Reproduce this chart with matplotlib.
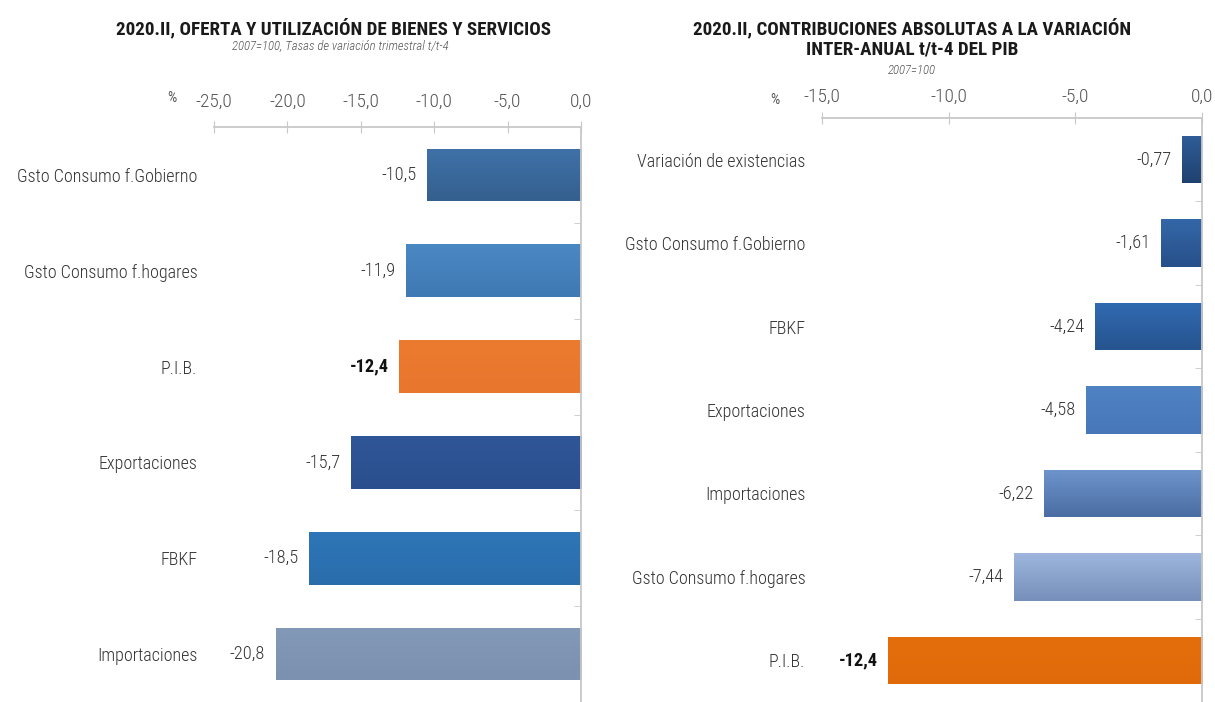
import matplotlib
matplotlib.use("Agg")
import matplotlib.pyplot as plt
import numpy as np
from matplotlib import font_manager
from matplotlib.colors import to_rgb

# ---------------- data ----------------
left_categories = ["Gsto Consumo f.Gobierno", "Gsto Consumo f.hogares", "P.I.B.",
                   "Exportaciones", "FBKF", "Importaciones"]
left_values = [-10.5, -11.9, -12.4, -15.7, -18.5, -20.8]
left_labels = ["-10,5", "-11,9", "-12,4", "-15,7", "-18,5", "-20,8"]
left_colors_top = ["#3f71a8", "#4a88c4", "#ec7b30", "#2f5698", "#2e76b8", "#8399b8"]
left_colors_bot = ["#34608f", "#4079b4", "#e8762c", "#2b4f8e", "#2a6dab", "#7c91af"]
left_ticks = [-25, -20, -15, -10, -5, 0]
left_ticklabels = ["-25,0", "-20,0", "-15,0", "-10,0", "-5,0", "0,0"]

right_categories = ["Variación de existencias", "Gsto Consumo f.Gobierno", "FBKF",
                    "Exportaciones", "Importaciones", "Gsto Consumo f.hogares", "P.I.B."]
right_values = [-0.77, -1.61, -4.24, -4.58, -6.22, -7.44, -12.4]
right_labels = ["-0,77", "-1,61", "-4,24", "-4,58", "-6,22", "-7,44", "-12,4"]
right_colors_top = ["#2f5d98", "#3467a8", "#316ab2", "#5083c4", "#6e94cc", "#9eb6dd", "#e56e0c"]
right_colors_bot = ["#1f416f", "#27508a", "#26548f", "#4777b8", "#4a6ea3", "#7690bb", "#e06a0a"]
right_ticks = [-15, -10, -5, 0]
right_ticklabels = ["-15,0", "-10,0", "-5,0", "0,0"]

# ---------------- fonts ----------------
names = {f.name for f in font_manager.fontManager.ttflist}
narrow = None
for cand in ["Liberation Sans Narrow", "Arial Narrow", "Roboto Condensed", "Open Sans Condensed"]:
    if cand in names:
        narrow = cand
        break
FAM = [narrow, "Liberation Sans", "DejaVu Sans"] if narrow else ["Liberation Sans", "DejaVu Sans"]
plt.rcParams["font.family"] = FAM

W, H = 1215, 702
fig = plt.figure(figsize=(W / 100, H / 100), dpi=100)
fig.patch.set_facecolor("white")
renderer = fig.canvas.get_renderer()

LW = "light"


def fit_size(text, target_px, weight="normal", style="normal", base=12.0):
    t = fig.text(0, 0, text, fontsize=base, fontweight=weight, style=style)
    w = t.get_window_extent(renderer=renderer).width
    t.remove()
    return base * target_px / w


CAT_FS = fit_size("Gsto Consumo f.Gobierno", 180, weight=LW)
VAL_FS = fit_size("-10,5", 35, weight=LW)
TICK_FS = fit_size("-25,0", 37, weight=LW)
TITLE_FS = fit_size("2020.II, OFERTA Y UTILIZACIÓN DE BIENES Y SERVICIOS", 432, weight="bold")
SUB_FS = fit_size("2007=100, Tasas de variación trimestral t/t-4", 216, style="italic", weight=LW)


def px_axes(x0, x1, y0, y1):
    return fig.add_axes([x0 / W, 1 - y1 / H, (x1 - x0) / W, (y1 - y0) / H])


def setup(ax, cats, vals, labs, ctop, cbot, ticks, ticklabels, xmin, ylim_bottom, bar_h,
          tick_pad, lab_pad):
    n = len(cats)
    y = list(range(n))
    bars = ax.barh(y, vals, height=bar_h, color=ctop, edgecolor="none", zorder=2)
    # vertical gradient fill for each bar (lighter top, darker bottom)
    for b, c1, c2 in zip(bars, ctop, cbot):
        x0, yb = b.get_x(), b.get_y()
        w, h = b.get_width(), b.get_height()
        t = np.linspace(0, 1, 64)[:, None, None]
        grad = (1 - t) * np.array(to_rgb(c1)) + t * np.array(to_rgb(c2))
        im = ax.imshow(grad, extent=(x0, x0 + w, yb + h, yb), origin="upper",
                       aspect="auto", zorder=3, interpolation="bilinear")
        im.set_clip_path(b)
    ax.set_xlim(xmin, 0)
    ax.set_ylim(ylim_bottom, -0.5)
    ax.set_yticks(y)
    ax.set_yticklabels(cats, fontsize=CAT_FS, color="#333333", fontweight=LW)
    ax.tick_params(axis="y", which="major", length=0, pad=lab_pad)
    ax.set_yticks([i + 0.5 for i in range(n)], minor=True)
    ax.tick_params(axis="y", which="minor", left=False, right=True, length=5,
                   color="#c8c8c8", direction="in")
    ax.xaxis.tick_top()
    ax.set_xticks(ticks)
    ax.set_xticklabels(ticklabels, fontsize=TICK_FS, color="#555555", fontweight=LW)
    ax.tick_params(axis="x", length=8, direction="inout", color="#c8c8c8", pad=tick_pad)
    for s in ["left", "bottom"]:
        ax.spines[s].set_visible(False)
    for s in ["top", "right"]:
        ax.spines[s].set_color("#c8c8c8")
        ax.spines[s].set_linewidth(1.3)
        ax.spines[s].set_zorder(4)
    for i, (v, t) in enumerate(zip(vals, labs)):
        bold = cats[i] == "P.I.B."
        ax.annotate(t, xy=(v, i), xytext=(-7.5, 0), textcoords="offset points",
                    ha="right", va="center", fontsize=VAL_FS,
                    fontweight="bold" if bold else LW,
                    color="#111111" if bold else "#333333")


# left chart: top at y=127 px, 97 px per category
axL = px_axes(214, 581, 127, 702)
setup(axL, left_categories, left_values, left_labels, left_colors_top, left_colors_bot,
      left_ticks, left_ticklabels, -25, 5.43, 0.55, 8, 12)
# right chart: top at y=118 px, 84.5 px per category
axR = px_axes(822, 1202, 118, 702)
setup(axR, right_categories, right_values, right_labels, right_colors_top, right_colors_bot,
      right_ticks, right_ticklabels, -15, 6.41, 0.57, 4.5, 12)

# percent signs
fig.text(172 / W, 1 - 98 / H, "%", fontsize=TICK_FS * 0.75, color="#555555", ha="center", va="center")
fig.text(775 / W, 1 - 100 / H, "%", fontsize=TICK_FS * 0.75, color="#555555", ha="center", va="center")

# titles
fig.text(334 / W, 1 - 28 / H, "2020.II, OFERTA Y UTILIZACIÓN DE BIENES Y SERVICIOS",
         fontsize=TITLE_FS, fontweight="bold", color="#1a1a1a", ha="center", va="center")
fig.text(340 / W, 1 - 46 / H, "2007=100, Tasas de variación trimestral t/t-4",
         fontsize=SUB_FS, style="italic", fontweight=LW, color="#555555", ha="center", va="center")
fig.text(912 / W, 1 - 28 / H, "2020.II, CONTRIBUCIONES ABSOLUTAS A LA VARIACIÓN",
         fontsize=TITLE_FS, fontweight="bold", color="#1a1a1a", ha="center", va="center")
fig.text(912 / W, 1 - 50 / H, "INTER-ANUAL t/t-4 DEL PIB",
         fontsize=TITLE_FS, fontweight="bold", color="#1a1a1a", ha="center", va="center")
fig.text(912 / W, 1 - 70 / H, "2007=100",
         fontsize=SUB_FS, style="italic", fontweight=LW, color="#555555", ha="center", va="center")

fig.savefig("out.png", dpi=100)
